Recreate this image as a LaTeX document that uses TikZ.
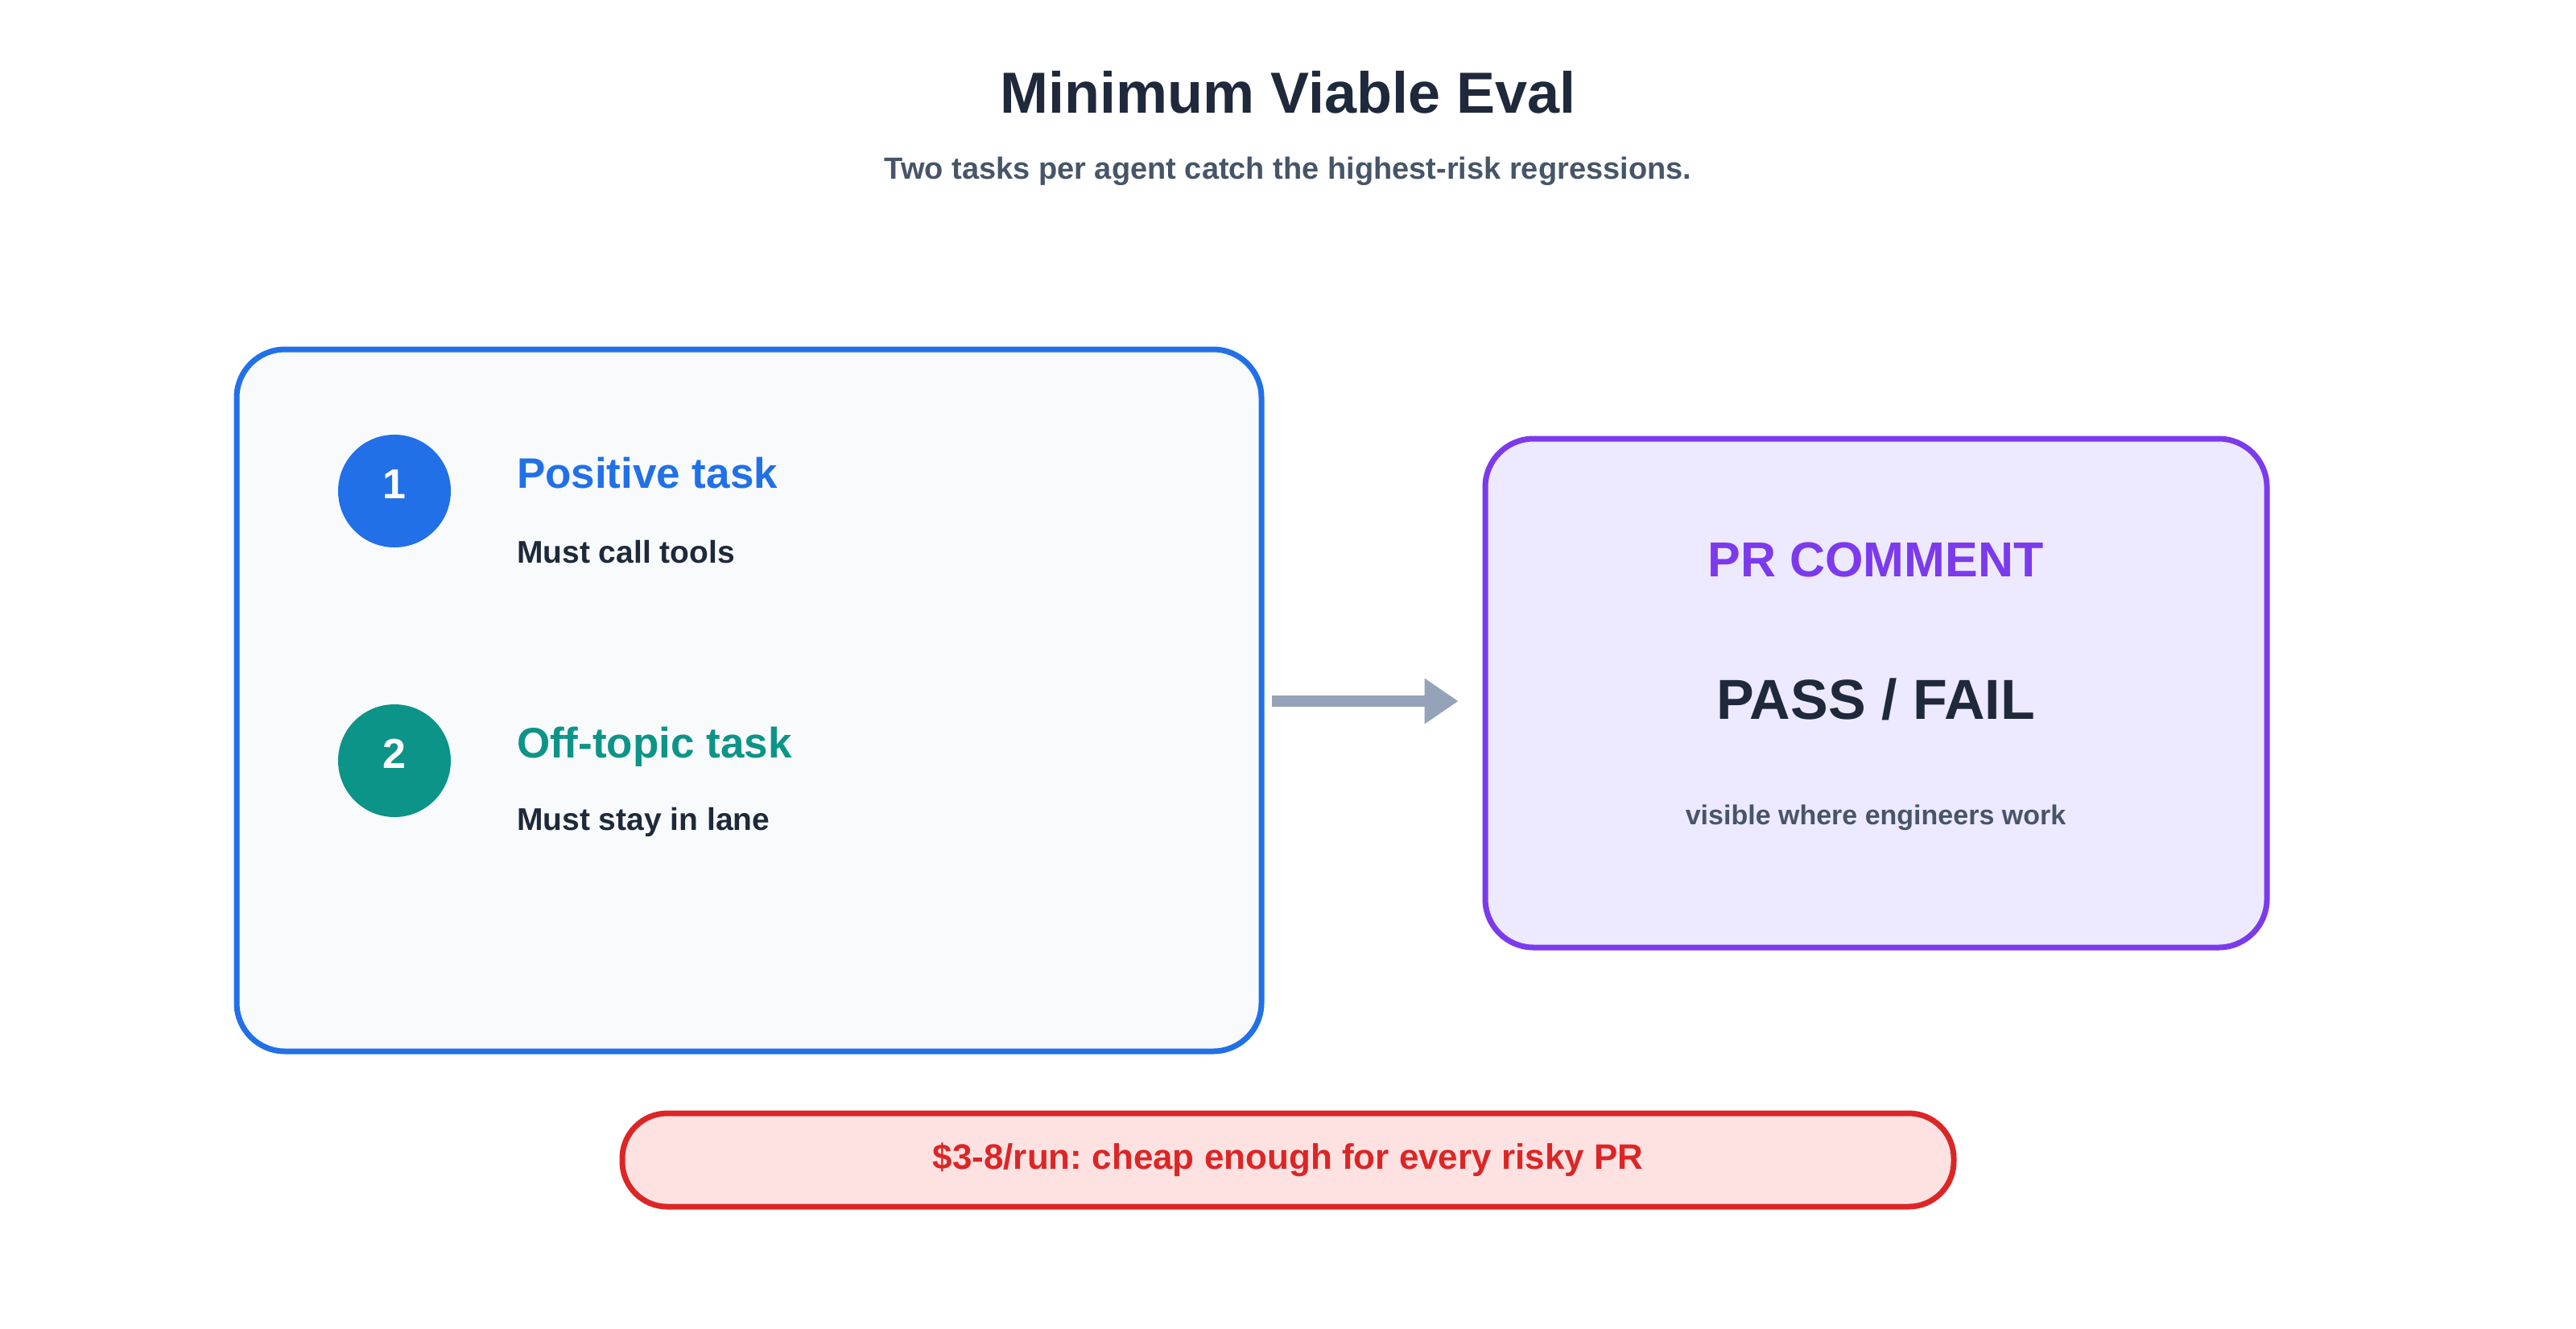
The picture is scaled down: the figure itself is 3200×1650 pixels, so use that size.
\documentclass[tikz,border=0pt]{standalone}
\usepackage{fontspec}
\setmainfont{Liberation Sans}
\usetikzlibrary{arrows.meta}
\frenchspacing
\definecolor{ink}{HTML}{1E293B}
\definecolor{slate}{HTML}{475569}
\definecolor{bluec}{HTML}{2170E8}
\definecolor{tealc}{HTML}{0D9488}
\definecolor{purp}{HTML}{7C3AED}
\definecolor{purpfill}{HTML}{EDE9FE}
\definecolor{leftfill}{HTML}{F8FAFC}
\definecolor{redc}{HTML}{DC2626}
\definecolor{redfill}{HTML}{FEE2E2}
\definecolor{arrowc}{HTML}{94A3B8}
\newcommand\fsz[1]{\fontsize{#1}{#1}\selectfont\bfseries}
\tikzset{
  txt/.style={inner sep=0pt, outer sep=0pt},
  panel/.style={draw, line width=7pt, rounded corners=60pt, inner sep=0pt},
  badge/.style={circle, minimum size=140pt, inner sep=0pt},
  flow/.style={draw=arrowc, line width=14pt, -{Triangle[length=42pt,width=54pt]}}
}
\begin{document}
\begin{tikzpicture}[x=1pt,y=-1pt]
\useasboundingbox[fill=white] (0,0) rectangle (3200,1650);
% title
\node[txt, anchor=base, text=ink] (title) at (1600,140) {\fsz{72}Minimum Viable Eval};
\node[txt, anchor=base, text=slate] (sub) at (1600,222) {\fsz{38}Two tasks per agent catch the highest-risk regressions.};
% left panel
\node[panel, draw=bluec, fill=leftfill, minimum width=1273pt, minimum height=872pt] (left) at (930.5,870) {};
\node[badge, fill=bluec] (b1) at (490,610) {};
\node[txt, anchor=base, text=white] (n1) at (490,619) {\fsz{52}1};
\node[txt, anchor=base west, text=bluec] (t1) at (642,606) {\fsz{53}Positive task};
\node[txt, anchor=base west, text=ink] (d1) at (642,699) {\fsz{39}Must call tools};
\node[badge, fill=tealc] (b2) at (490,945) {};
\node[txt, anchor=base, text=white] (n2) at (490,954) {\fsz{52}2};
\node[txt, anchor=base west, text=tealc] (t2) at (642,941) {\fsz{53}Off-topic task};
\node[txt, anchor=base west, text=ink] (d2) at (642,1031) {\fsz{39}Must stay in lane};
% right panel
\node[panel, draw=purp, fill=purpfill, minimum width=971pt, minimum height=632pt] (right) at (2330.5,861) {};
\node[txt, anchor=base, text=purp] (pr) at (2330,716) {\fsz{61}PR COMMENT};
\node[txt, anchor=base, text=ink] (pf) at (2330,893) {\fsz{70}PASS / FAIL};
\node[txt, anchor=base, text=slate] (vis) at (2330,1024) {\fsz{34}visible where engineers work};
% arrow
\coordinate (aend) at (right.west |- 0,871);
\draw[flow, shorten <=9pt, shorten >=30pt] (left.east |- aend) -- (aend);
% bottom pill
\node[draw=redc, fill=redfill, line width=7pt, rounded corners=56pt, minimum width=1654pt, minimum height=116pt, inner sep=0pt] (pill) at (1600,1441) {};
\node[txt, anchor=base, text=redc] (cost) at (1600,1452) {\fsz{44}\$3-8/run: cheap enough for every risky PR};
\end{tikzpicture}
\end{document}
